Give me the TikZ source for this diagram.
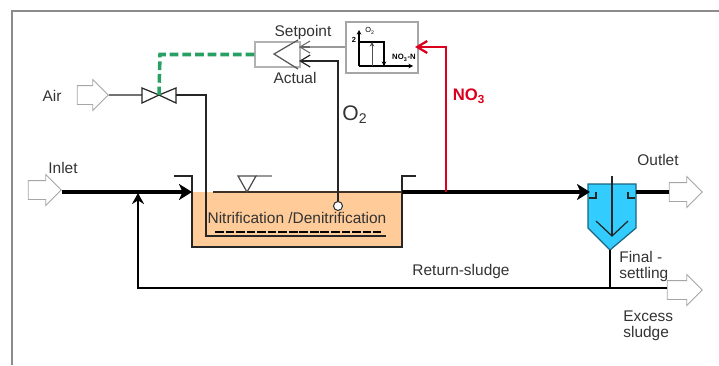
\documentclass[tikz,border=0pt]{standalone}
\usepackage{fontspec}
\setmainfont{Liberation Sans}
\usetikzlibrary{arrows.meta}
\usetikzlibrary{shapes.arrows}
\definecolor{tankfill}{RGB}{255,204,153}
\definecolor{settlerfill}{RGB}{51,204,255}
\definecolor{ctrlgreen}{RGB}{40,160,100}
\definecolor{nitred}{RGB}{220,0,30}
\newcommand{\shaftgap}{\rule{0pt}{0.36cm}}
\tikzset{x=0.02cm, y=-0.02cm,
every node/.style={ % Sets the properties for each label
font=\fontsize{8.8}{10}\selectfont,
text=black!80,
inner sep=0pt},
hollow/.style={ % White block arrows at the ends of the plant
single arrow,
draw=black!35,
fill=white,
line width=0.5pt,
single arrow head extend=0.12cm,
single arrow tip angle=90,
minimum width=0.6cm},
thickflow/.style={
line width=2.6pt,
-{Stealth[length=0.26cm,width=0.32cm,inset=0.07cm]}},
thinflow/.style={
line width=1.4pt,
draw=black},
signal/.style={
line width=0.7pt,
draw=black!85},
openarrow/.style={
-{Straight Barb[length=0.2cm,width=0.24cm]}}}

\begin{document}
\begin{tikzpicture}
	\useasboundingbox (0,0) rectangle (719,365);
	\draw[black!45, line width=1.2pt] (12,365) -- (12,11) -- (719,11);
	% tank
	\node[fill=tankfill, minimum width=4.2cm, minimum height=1.1cm] (tank) at (297,219.5) {};
	\coordinate (tankin) at (192,192);
	\coordinate (tankout) at (402,192);
	\coordinate (sensor) at (338,206);
	\draw[signal] (174,176) -- (192,176) -- (192,247) -- (402,247) -- (402,176) -- (416,176);
	\draw[black!75!tankfill, line width=0.9pt] (213,192) -- (tankout);
	\draw[black!40, line width=0.8pt] (256,176) -- (272,176);
	\draw[signal, fill=white, draw=black!70] (238,176) -- (256,176) -- (247,192) -- cycle;
	\node (process) at (297,218) {Nitrification /Denitrification};
	\draw[black, line width=1pt, dash pattern=on 5pt off 1pt] (215,232) -- (381,232);
	% settler
	\coordinate (settlerin) at (590,192);
	\coordinate (settlerout) at (636,192);
	\coordinate (settlerbase) at (610,250);
	\draw[draw=black!50!settlerfill, fill=settlerfill, line width=0.7pt] (588,184) -- (636,184) -- (636,228) -- (settlerbase) -- (588,228) -- cycle;
	\draw[signal] (612,176) -- (612,236);
	\draw[signal] (596,221) -- (612,236) -- (628,221);
	\draw[signal] (589,198) -- (596,198) -- (596,192);
	\draw[signal] (628,192) -- (628,198) -- (635,198);
	% block arrows
	\node[hollow, minimum height=0.62cm] (air) at (88,95) {\shaftgap};
	\node[hollow, minimum height=0.66cm] (inlet) at (40,190) {\shaftgap};
	\node[hollow, minimum height=0.66cm] (outlet) at (681,192) {\shaftgap};
	\node[hollow, minimum height=0.7cm] (excess) at (680,290) {\shaftgap};
	% valve
	\coordinate (valvel) at (142,95);
	\coordinate (valver) at (176,95);
	\coordinate (valve) at (159,95);
	\draw[signal, line join=miter] (valve) -- (142,88) -- (142,103) -- cycle;
	\draw[signal, line join=miter] (valve) -- (176,88) -- (176,103) -- cycle;
	\draw[signal] (air.east) -- (valvel);
	\draw[signal] (valver) -- (206,95) -- (206,236) -- (386,236);
	% main flow
	\draw[thickflow] (inlet.east |- tankin) -- (tankin);
	\draw[thickflow] (tankout) -- (settlerin);
	\draw[line width=2.6pt] (settlerout) -- (outlet.west |- settlerout);
	\coordinate (returnup) at (138,193);
	\coordinate (returncorner) at (138,288);
	\coordinate (returnjoin) at (610,288);
	\draw[thinflow, -{Stealth[length=0.22cm,width=0.24cm]}] (returnjoin) -- (returncorner) -- (returnup);
	\draw[line width=1.6pt] (settlerbase) -- (returnjoin);
	\draw[thinflow] (returnjoin) -- (excess.west |- returnjoin);
	% controller
	\node[draw=black!30, line width=0.7pt, fill=white, minimum width=0.9cm, minimum height=0.5cm] (controller) at (277.5,54.5) {};
	\draw[draw=black!65, line width=0.7pt] (298,40) -- (274,54) -- (298,69);
	\node[draw=black!35, line width=0.7pt, minimum width=1.44cm, minimum height=1.02cm] (curve) at (382,47.5) {};
	\coordinate (setin) at (299,47);
	\coordinate (setbarb) at (310,47);
	\coordinate (actualin) at (299,61);
	\coordinate (actualcorner) at (338,61);
	\coordinate (redcorner) at (446,47);
	\coordinate (redstart) at (446,192);
	\coordinate (redtip) at (415,47);
	\draw[black!40, line width=1.2pt] (curve.west |- setin) -- (setin);
	\draw[black!60, line width=0.6pt, openarrow] (setbarb) -- (setin);
	\draw[signal, openarrow] (sensor) -- (actualcorner) -- (actualin);
	\node[circle, draw=black!80, fill=white, line width=0.6pt, minimum size=0.18cm] (probe) at (sensor) {};
	\draw[nitred, line width=1.3pt, openarrow] (redstart) -- (redcorner) -- (redtip);
	\draw[ctrlgreen, line width=2pt, dash pattern=on 5pt off 2.2pt] (controller.west) -- (160,54.5) -- (valve);
	% small curve in the box
	\draw[black, line width=0.7pt, -{Stealth[length=0.09cm,width=0.09cm]}] (359,66) -- (359,30);
	\draw[black, line width=0.7pt, -{Stealth[length=0.09cm,width=0.09cm]}] (359,66) -- (413,66);
	\draw[black, line width=0.7pt] (359,42) -- (384,42) -- (384,66);
	\draw[black!70, line width=0.5pt, -{Stealth[length=0.09cm,width=0.09cm]}] (372,66) -- (372,42);
	\draw[black, -{Stealth[length=0.09cm,width=0.09cm]}, line width=0.5pt] (384,50) -- (384,66);
	\node[font=\fontsize{4.2}{5}\selectfont, text=black] (otwo) at (370,31) {O\textsubscript{2}};
	\node[font=\bfseries\fontsize{4.2}{5}\selectfont, text=black] (twolabel) at (354,40) {2};
	\node[font=\bfseries\fontsize{4.4}{5}\selectfont, text=black] (nolabel) at (404,58) {NO\textsubscript{3}-N};
	% labels
	\node (airlabel) at (52,96) {Air};
	\node (inletlabel) at (63,168) {Inlet};
	\node (outletlabel) at (658,160) {Outlet};
	\node (setpoint) at (303,33) {Setpoint};
	\node (actual) at (295,78) {Actual};
	\node[font=\fontsize{12}{14}\selectfont] (otwolabel) at (355,115) {O\textsubscript{2}};
	\node[font=\bfseries\fontsize{9.5}{11}\selectfont, text=nitred] (nothree) at (469,96) {NO\textsubscript{3}};
	\node (returnlabel) at (461,271) {Return-sludge};
	\node[anchor=west] (finallabel) at (619,257) {Final -};
	\node[anchor=west] (settlinglabel) at (619,274) {settling};
	\node[anchor=west] (excesslabel) at (623,316) {Excess};
	\node[anchor=west] (sludgelabel) at (623,333) {sludge};
\end{tikzpicture}
\end{document}
